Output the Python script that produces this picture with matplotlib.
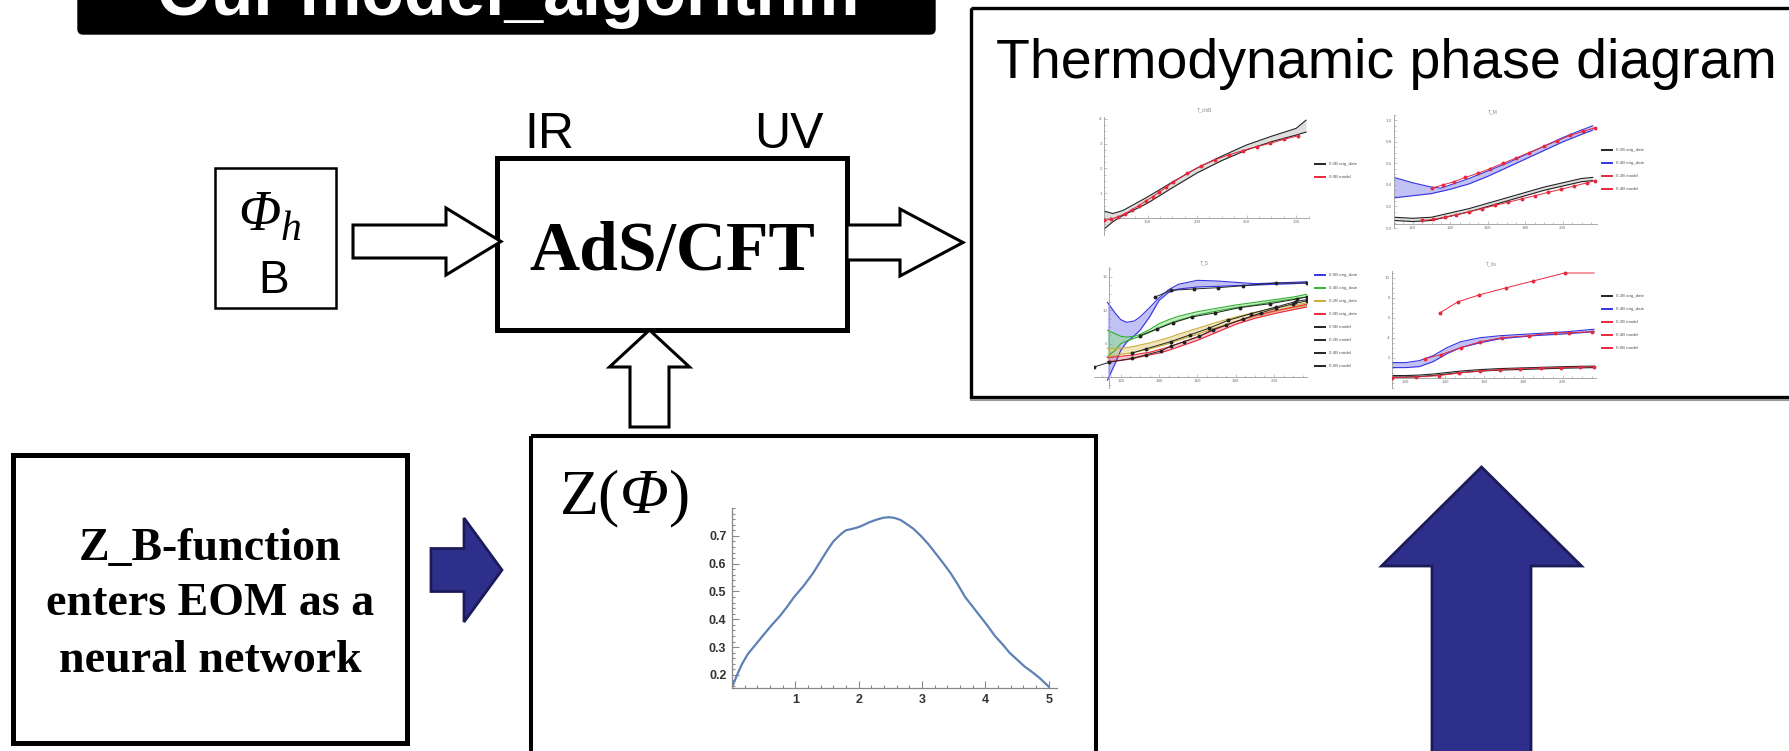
import matplotlib.pyplot as plt
import matplotlib.patches as mpatches
from matplotlib.ticker import AutoMinorLocator, MultipleLocator

W, H = 1789, 751

# ---- Z(Phi) learned coupling ----
z_phi = [0, 0.08, 0.16, 0.25, 0.34, 0.43, 0.52, 0.63, 0.75, 0.87, 0.98, 1.13, 1.28, 1.4,
         1.51, 1.6, 1.69, 1.75, 1.8, 1.88, 1.98, 2.07, 2.16, 2.28, 2.39, 2.48, 2.57, 2.66,
         2.74, 2.86, 2.98, 3.1, 3.21, 3.33, 3.45, 3.57, 3.68, 3.8, 3.92, 4.04, 4.15, 4.27,
         4.38, 4.5, 4.62, 4.74, 4.85, 5.0]
z_val = [0.155, 0.20, 0.24, 0.275, 0.30, 0.325, 0.35, 0.38, 0.41, 0.445, 0.48, 0.52, 0.566,
         0.61, 0.65, 0.68, 0.70, 0.712, 0.72, 0.724, 0.73, 0.738, 0.748, 0.758, 0.765, 0.767,
         0.764, 0.757, 0.745, 0.726, 0.70, 0.67, 0.638, 0.603, 0.566, 0.523, 0.48, 0.445,
         0.41, 0.375, 0.34, 0.31, 0.28, 0.255, 0.23, 0.21, 0.19, 0.158]

# ---- T_chiB panel ----
chib_T = [106, 115, 125, 150, 175, 200, 225, 250, 275, 300, 310]
chib_orig_hi = [0.28, 0.18, 0.3, 0.85, 1.45, 2.02, 2.5, 2.95, 3.3, 3.62, 3.95]
chib_orig_lo = [-0.45, -0.15, 0.1, 0.6, 1.22, 1.82, 2.32, 2.75, 3.08, 3.35, 3.47]
chib_model_T = [106, 113, 120, 127, 134, 141, 148, 155, 162, 169, 176, 190, 204, 218,
                232, 246, 260, 274, 288, 302]
chib_model = [-0.1, -0.05, 0.05, 0.18, 0.33, 0.5, 0.68, 0.86, 1.05, 1.25, 1.45, 1.8,
              2.1, 2.35, 2.55, 2.72, 2.88, 3.02, 3.18, 3.32]

# ---- T_M panel ----
tm_T = [110, 120, 130, 135, 140, 150, 160, 170, 180, 190, 200, 210, 216]
tm_04_hi = [0.47, 0.42, 0.38, 0.37, 0.40, 0.46, 0.53, 0.60, 0.68, 0.76, 0.84, 0.91, 0.95]
tm_04_lo = [0.28, 0.30, 0.32, 0.34, 0.36, 0.41, 0.48, 0.56, 0.64, 0.72, 0.80, 0.87, 0.91]
tm_02_hi = [0.10, 0.09, 0.10, 0.12, 0.14, 0.18, 0.23, 0.28, 0.33, 0.38, 0.42, 0.46, 0.47]
tm_02_lo = [0.07, 0.06, 0.07, 0.09, 0.11, 0.15, 0.20, 0.25, 0.30, 0.35, 0.39, 0.43, 0.44]
tm_04_model_T = [130, 136, 142, 148, 155, 161, 168, 175, 182, 190, 197, 204, 211, 217]
tm_04_model = [0.37, 0.40, 0.43, 0.47, 0.51, 0.55, 0.60, 0.65, 0.70, 0.76, 0.81, 0.86, 0.90, 0.93]
tm_02_model_T = [125, 131, 137, 143, 150, 157, 164, 171, 178, 185, 192, 199, 206, 213, 217]
tm_02_model = [0.07, 0.08, 0.10, 0.12, 0.15, 0.18, 0.21, 0.24, 0.27, 0.30, 0.33, 0.36,
               0.39, 0.42, 0.44]

# ---- T_S panel ----
ts_T = [113, 117, 120, 123, 127, 130, 135, 140, 145, 150, 160, 170, 180, 190, 200, 210, 217]
ts_06_hi = [11.2, 9.6, 8.6, 8.2, 8.4, 9.0, 10.4, 11.9, 13.1, 13.9, 14.5, 14.4, 14.2, 14.0, 14.1, 14.2, 14.3]
ts_06_lo = [-0.5, 2.0, 4.0, 5.2, 6.2, 7.0, 9.0, 11.5, 12.7, 13.2, 13.5, 13.6, 13.7, 13.8, 13.9, 14.0, 14.1]
ts_04_hi = [7.0, 6.5, 6.1, 6.0, 6.1, 6.4, 7.1, 8.0, 8.6, 9.1, 9.8, 10.3, 10.8, 11.2, 11.6, 12.0, 12.4]
ts_04_lo = [3.0, 4.0, 5.0, 5.4, 5.8, 6.1, 6.7, 7.4, 8.0, 8.5, 9.3, 9.9, 10.4, 10.8, 11.3, 11.7, 12.0]
ts_02_hi = [4.3, 4.3, 4.3, 4.4, 4.6, 4.8, 5.1, 5.5, 5.9, 6.4, 7.3, 8.2, 9.0, 9.7, 10.3, 10.8, 11.1]
ts_02_lo = [3.0, 3.2, 3.4, 3.5, 3.7, 3.9, 4.2, 4.6, 5.0, 5.5, 6.4, 7.4, 8.3, 9.1, 9.8, 10.4, 10.7]
ts_00_hi = [2.9, 3.0, 3.1, 3.2, 3.3, 3.5, 3.7, 4.1, 4.5, 5.0, 6.0, 7.2, 8.3, 9.2, 9.9, 10.5, 10.9]
ts_00_lo = [2.3, 2.4, 2.5, 2.6, 2.8, 3.0, 3.3, 3.6, 4.0, 4.5, 5.5, 6.7, 7.9, 8.8, 9.5, 10.1, 10.5]
ts_06_model_T = [138, 146, 158, 171, 184, 201, 217]
ts_06_model = [12.0, 13.0, 13.2, 13.4, 13.7, 14.1, 14.1]
ts_04_model_T = [130, 139, 147, 157, 169, 182, 198, 212, 217]
ts_04_model = [6.2, 7.2, 8.1, 9.0, 9.6, 10.4, 11.0, 11.7, 12.0]
ts_02_model_T = [126, 133, 146, 156, 166, 176, 188, 201, 211, 217]
ts_02_model = [3.6, 4.2, 5.3, 6.3, 7.3, 8.5, 9.5, 10.5, 11.3, 11.6]
ts_00_model_T = [106, 114, 126, 133, 141, 146, 153, 161, 168, 175, 184, 193, 201, 210, 217]
ts_00_model = [1.5, 2.2, 2.8, 3.3, 3.9, 4.6, 5.3, 6.1, 7.1, 7.8, 8.7, 9.6, 10.3, 11.0, 11.4]

# ---- T_ds panel ----
tds_T = [113, 120, 127, 134, 141, 148, 158, 168, 185, 202, 216]
tds_04_hi = [1.5, 1.5, 1.7, 2.2, 3.0, 3.6, 4.0, 4.2, 4.4, 4.6, 4.85]
tds_04_lo = [1.0, 1.0, 1.1, 1.6, 2.4, 3.0, 3.5, 3.9, 4.2, 4.4, 4.6]
tds_02_hi = [0.2, 0.2, 0.25, 0.35, 0.5, 0.65, 0.8, 0.9, 1.0, 1.1, 1.15]
tds_02_lo = [0.05, 0.05, 0.1, 0.2, 0.35, 0.5, 0.65, 0.75, 0.85, 0.95, 1.0]
tds_06_model_T = [137.5, 146.5, 157.5, 171, 185, 201, 216]
tds_06_model = [6.5, 7.6, 8.3, 9.0, 9.7, 10.5, 10.5]
tds_04_model_T = [130, 138, 148, 158, 169, 183, 196, 203, 215]
tds_04_model = [1.9, 2.3, 3.0, 3.6, 4.0, 4.2, 4.5, 4.5, 4.6]
tds_02_model_T = [113, 125, 137, 147, 158, 168, 178, 189, 199, 209, 216]
tds_02_model = [0.0, 0.05, 0.2, 0.45, 0.65, 0.8, 0.9, 0.95, 1.0, 1.05, 1.1]

BLACK, GRAY = '#222222', '#c4c4c4'
BLUE, LBLUE = '#3535e0', '#8f8fee'
GREEN, LGREEN = '#33b033', '#8ee08e'
YELLOW, LYELLOW = '#c8ae3c', '#e2d07e'
RED, LRED = '#e8283c', '#f29494'
NAVY, NAVY_EDGE = '#2e2f8a', '#1c1b5a'
SERIF = 'Liberation Serif'

plt.rcParams['font.family'] = 'Liberation Sans'

fig = plt.figure(figsize=(W / 100, H / 100), dpi=100)
cv = fig.add_axes([0, 0, 1, 1])
cv.set_xlim(0, W)
cv.set_ylim(H, 0)
cv.axis('off')
renderer = fig.canvas.get_renderer()


def px(x0, y0, x1, y1):
    return [x0 / W, 1 - y1 / H, (x1 - x0) / W, (y1 - y0) / H]


def box(x0, y0, x1, y1, lw):
    cv.add_patch(mpatches.Rectangle((x0, y0), x1 - x0, y1 - y0, fill=False,
                                    ec='black', lw=lw, joinstyle='miter'))


def arrow(x, y, dx, dy, width, head_w, head_l, fc, ec, lw):
    cv.add_patch(mpatches.FancyArrow(x, y, dx, dy, width=width, head_width=head_w,
                                     head_length=head_l, length_includes_head=True,
                                     fc=fc, ec=ec, lw=lw, joinstyle='miter'))


def pieces(x, y, parts):
    # write text pieces one after another on a common baseline
    for s, size, style, dy in parts:
        t = cv.text(x, y + dy, s, family=SERIF, fontsize=size, style=style,
                    ha='left', va='baseline')
        x += t.get_window_extent(renderer).width


# title bar (cut at the top edge)
cv.add_patch(mpatches.FancyBboxPatch((78, -40), 857, 74, boxstyle='round,pad=0,rounding_size=5',
                                     fc='black', ec='black'))
cv.text(508, 15, 'Our model_algorithm', color='white', fontsize=50, fontweight='bold',
        ha='center', va='baseline')

# AdS/CFT block
cv.text(549, 148, 'IR', fontsize=36, ha='center', va='baseline')
cv.text(789, 148, 'UV', fontsize=36, ha='center', va='baseline')
box(497, 158, 847, 330, 3.6)
cv.text(672, 270, 'AdS/CFT', family=SERIF, fontweight='bold', fontsize=50,
        ha='center', va='baseline')

box(215, 168, 336, 308, 1.8)
pieces(238, 230, [('Φ', 40, 'italic', 0), ('h', 30, 'italic', 10)])
cv.text(274, 293, 'B', fontsize=33, ha='center', va='baseline')

arrow(353, 241.5, 148, 0, 33, 67, 55, 'white', 'black', 2.2)
arrow(847, 242.5, 116, 0, 35, 67, 63, 'white', 'black', 2.2)
arrow(649.5, 427, 0, -97, 39, 80, 37, 'white', 'black', 2.2)

# thermodynamics frame
box(971, 8, 1900, 397, 2.4)
cv.plot([971, 1900], [400, 400], color='#9a9a9a', lw=1.5)
cv.text(996, 78, 'Thermodynamic phase diagram', fontsize=40, ha='left', va='baseline')

# Z(Phi) frame
box(531, 436, 1096, 800, 2.9)
pieces(560, 513, [('Z(', 46, 'normal', 0), ('Φ', 46, 'italic', 0), (')', 46, 'normal', 0)])

# neural network box
box(13, 455, 407, 743, 3.6)
for txt, yb in [('Z_B-function', 560), ('enters EOM as a', 615), ('neural network', 672)]:
    cv.text(210, yb, txt, family=SERIF, fontweight='bold', fontsize=33,
            ha='center', va='baseline')

arrow(431, 570, 71, 0, 43, 104, 38, NAVY, NAVY_EDGE, 2)
arrow(1481.5, 790, 0, -323, 99, 200, 99, NAVY, NAVY_EDGE, 2)

# ---- Z(Phi) plot ----
az = fig.add_axes(px(732, 508, 1057, 688))
az.patch.set_visible(False)
az.plot(z_phi, z_val, color='#5E81B5', lw=1.6)
az.set_xlim(0, 5.13)
az.set_ylim(0.153, 0.80)
for s in ('top', 'right'):
    az.spines[s].set_visible(False)
for s in ('left', 'bottom'):
    az.spines[s].set_color('#888888')
    az.spines[s].set_linewidth(0.9)
az.set_xticks([1, 2, 3, 4, 5])
az.set_yticks([0.2, 0.3, 0.4, 0.5, 0.6, 0.7])
az.xaxis.set_minor_locator(MultipleLocator(0.2))
az.yaxis.set_minor_locator(MultipleLocator(0.02))
az.tick_params(which='both', direction='in', color='#888888', width=0.8,
               labelsize=9, labelcolor='#333333', pad=4)
az.tick_params(which='major', length=5)
az.tick_params(which='minor', length=2.5)
for lab in az.get_xticklabels() + az.get_yticklabels():
    lab.set_fontweight('bold')


# ---- small thermodynamic panels ----
def panel(rect, xlim, ylim, xticks, yticks, x_at, y_at):
    ax = fig.add_axes(px(*rect))
    ax.patch.set_visible(False)
    ax.set_xlim(xlim)
    ax.set_ylim(ylim)
    ax.spines['top'].set_visible(False)
    ax.spines['right'].set_visible(False)
    ax.spines['left'].set_position(('data', x_at))
    ax.spines['bottom'].set_position(('data', y_at))
    for s in ('left', 'bottom'):
        ax.spines[s].set_color('#9a9a9a')
        ax.spines[s].set_linewidth(0.6)
    ax.set_xticks(xticks)
    ax.set_yticks(yticks)
    ax.xaxis.set_minor_locator(AutoMinorLocator(4))
    ax.yaxis.set_minor_locator(AutoMinorLocator(4))
    ax.tick_params(which='both', direction='in', color='#9a9a9a', labelcolor='#777777',
                   labelsize=3.2, pad=1.5, width=0.4)
    ax.tick_params(which='major', length=2.2)
    ax.tick_params(which='minor', length=1.2)
    return ax


def band(ax, x, hi, lo, line_c, fill_c, label):
    ax.fill_between(x, lo, hi, color=fill_c, alpha=0.55, lw=0)
    h, = ax.plot(x, hi, color=line_c, lw=0.8, label=label)
    ax.plot(x, lo, color=line_c, lw=0.8)
    return h


def model(ax, x, y, c, label, every=None):
    h, = ax.plot(x, y, color=c, lw=0.7, label=label, zorder=4)
    ax.plot(x, y, ls='none', marker='o', ms=1.8, color=c, markevery=every, zorder=4)
    return h


def legend(ax, handles, x, y):
    leg = ax.legend(handles=handles, loc='upper left', bbox_to_anchor=(x / W, 1 - y / H),
                    bbox_transform=fig.transFigure, frameon=False, fontsize=3.2,
                    labelcolor='#555555', handlelength=2.3, handletextpad=0.8,
                    labelspacing=2.0, borderpad=0, borderaxespad=0)
    for hl in leg.legend_handles:
        hl.set_linewidth(1.4)


# T_chiB
a1 = panel((1104, 116.5, 1309, 235.3), (106, 313), (-0.7, 4.1), [150, 200, 250, 300],
           [1, 2, 3, 4], 106, 0)
h1 = band(a1, chib_T, chib_orig_hi, chib_orig_lo, BLACK, GRAY, '0.0B orig_date')
h2 = model(a1, chib_model_T, chib_model, RED, '0.0B model')
legend(a1, [h1, h2], 1315, 162)
cv.text(1205, 110, 'T_chiB', fontsize=3.5, color='#888888', ha='center', va='center')

# T_M
a2 = panel((1394, 115, 1596.5, 228), (110, 218), (0, 1.05), [120, 140, 160, 180, 200],
           [0.0, 0.2, 0.4, 0.6, 0.8, 1.0], 110, 0.04)
h1 = band(a2, tm_T, tm_02_hi, tm_02_lo, BLACK, GRAY, '0.2B orig_date')
h2 = band(a2, tm_T, tm_04_hi, tm_04_lo, BLUE, LBLUE, '0.4B orig_date')
h3 = model(a2, tm_02_model_T, tm_02_model, RED, '0.2B model')
h4 = model(a2, tm_04_model_T, tm_04_model, RED, '0.4B model')
legend(a2, [h1, h2, h3, h4], 1602, 148)
cv.text(1493, 112, 'T_M', fontsize=3.5, color='#888888', ha='center', va='center')

# T_S
a3 = panel((1094, 267, 1306.6, 388.3), (106, 217), (-1.7, 16.5), [120, 140, 160, 180, 200],
           [5, 10, 15], 114, 0)
h1 = band(a3, ts_T, ts_06_hi, ts_06_lo, BLUE, LBLUE, '0.6B orig_date')
h2 = band(a3, ts_T, ts_04_hi, ts_04_lo, GREEN, LGREEN, '0.4B orig_date')
h3 = band(a3, ts_T, ts_02_hi, ts_02_lo, YELLOW, LYELLOW, '0.2B orig_date')
h4 = band(a3, ts_T, ts_00_hi, ts_00_lo, RED, LRED, '0.0B orig_date')
h5 = model(a3, ts_00_model_T, ts_00_model, BLACK, '0.0B model')
h6 = model(a3, ts_02_model_T, ts_02_model, BLACK, '0.2B model')
h7 = model(a3, ts_04_model_T, ts_04_model, BLACK, '0.4B model')
h8 = model(a3, ts_06_model_T, ts_06_model, BLACK, '0.6B model')
legend(a3, [h1, h2, h3, h4, h5, h6, h7, h8], 1315, 273)
cv.text(1204, 263, 'T_S', fontsize=3.5, color='#888888', ha='center', va='center')

# T_ds
a4 = panel((1392, 271, 1596, 387.5), (113, 217), (-1.0, 10.7), [120, 140, 160, 180, 200],
           [2, 4, 6, 8, 10], 113, 0)
h1 = band(a4, tds_T, tds_02_hi, tds_02_lo, BLACK, GRAY, '0.2B orig_date')
h2 = band(a4, tds_T, tds_04_hi, tds_04_lo, BLUE, LBLUE, '0.4B orig_date')
h3 = model(a4, tds_02_model_T, tds_02_model, RED, '0.2B model')
h4 = model(a4, tds_04_model_T, tds_04_model, RED, '0.4B model')
h5 = model(a4, tds_06_model_T, tds_06_model, RED, '0.6B model', every=slice(0, -1))
legend(a4, [h1, h2, h3, h4, h5], 1602, 294)
cv.text(1491, 264, 'T_ds', fontsize=3.5, color='#888888', ha='center', va='center')

fig.savefig('out.png', dpi=100)
